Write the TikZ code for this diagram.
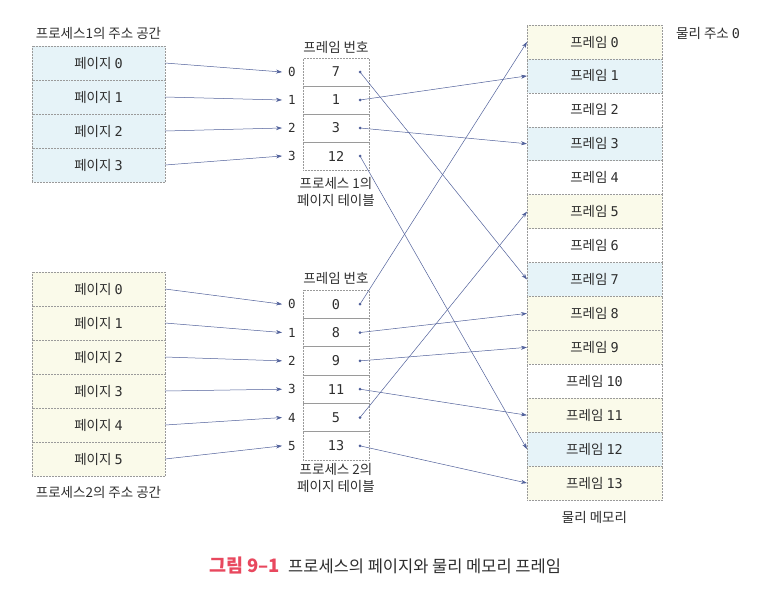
\documentclass[tikz,border=0pt]{standalone}
\usepackage{fontspec}
\setmainfont{Noto Sans CJK KR}
\newfontfamily\mono{DejaVu Sans Mono}
\usetikzlibrary{arrows.meta}
\definecolor{blueC}{HTML}{E6F3F8}
\definecolor{yelC}{HTML}{FAFAEA}
\definecolor{bord}{HTML}{9A9A9A}
\definecolor{arrC}{HTML}{50609A}
\definecolor{txt}{HTML}{2E2E2E}
\definecolor{capred}{HTML}{E8485E}
\tikzset{
  cell/.style={draw=bord, line width=0.5pt, densely dotted, inner sep=0pt, outer sep=0pt, text=txt, font=\fontsize{13.5}{15}\selectfont},
  pg/.style={cell, minimum width=133pt, minimum height=34pt},
  tb/.style={cell, minimum width=66pt, minimum height=28pt},
  tb2/.style={cell, minimum width=66pt, minimum height=28.33pt},
  fr/.style={cell, minimum width=135pt, minimum height=33.93pt},
  lbl/.style={text=txt, inner sep=0pt, font=\fontsize{13.5}{17}\selectfont},
  idx/.style={text=txt, inner sep=0pt, font=\fontsize{12.5}{14}\selectfont\mono},
  arr/.style={draw=arrC, line width=0.5pt, -{Stealth[length=6pt,width=4pt]}},
  dotc/.style={fill=arrC}
}
\begin{document}
\begin{tikzpicture}[x=1pt,y=-1pt]
\useasboundingbox (0,0) rectangle (763,600);
% process 1 pages
\node[lbl] (p1lab) at (98.5,33) {프로세스1의 주소 공간};
\foreach \i/\c in {0/blueC,1/blueC,2/blueC,3/blueC}
  \node[pg, fill=\c] (p1r\i) at (98.5,{63+34*\i}) {페이지 {\mono\i}};
% process 2 pages
\foreach \i in {0,...,5}
  \node[pg, fill=yelC] (p2r\i) at (98.5,{289+34*\i}) {페이지 {\mono\i}};
\node[lbl] (p2lab) at (98.5,492) {프로세스2의 주소 공간};
% page table 1
\node[lbl] (t1head) at (336,47) {프레임 번호};
\foreach \i/\v in {0/7,1/1,2/3,3/12} {
  \node[tb] (t1r\i) at (336,{72+28*\i}) {\mono\v};
  \node[idx] (t1i\i) at (292,{72+28*\i}) {\i};
  \coordinate (t1d\i) at ([xshift=-9pt]t1r\i.east);
}
\node[lbl, align=center, anchor=north] (t1cap) at (336,177) {프로세스 1의\\페이지 테이블};
% page table 2
\node[lbl] (t2head) at (336,278) {프레임 번호};
\foreach \i/\v in {0/0,1/8,2/9,3/11,4/5,5/13} {
  \node[tb2] (t2r\i) at (336,{304.2+28.33*\i}) {\mono\v};
  \node[idx] (t2i\i) at (292,{304.2+28.33*\i}) {\i};
  \coordinate (t2d\i) at ([xshift=-9pt]t2r\i.east);
}
\node[lbl, align=center, anchor=north] (t2cap) at (336,463) {프로세스 2의\\페이지 테이블};
% physical memory
\foreach \i/\c in {0/yelC,1/blueC,2/white,3/blueC,4/white,5/yelC,6/white,7/blueC,8/yelC,9/yelC,10/white,11/yelC,12/blueC,13/yelC}
  \node[fr, fill=\c] (f\i) at (594.5,{25+33.93*(\i+0.5)}) {프레임 {\mono\i}};
\node[lbl, anchor=west] (addr0) at (676,33) {물리 주소 {\mono 0}};
\node[lbl] (pmlab) at (594.5,517) {물리 메모리};
% arrows pages -> index
\foreach \i in {0,...,3}
  \draw[arr] (p1r\i.east) -- ([xshift=-6pt]t1i\i.west);
\foreach \i in {0,...,5}
  \draw[arr] (p2r\i.east) -- ([xshift=-6pt]t2i\i.west);
% arrows table -> frames
\draw[arr] (t1d0) -- (f7.west);
\draw[arr] (t1d1) -- (f1.west);
\draw[arr] (t1d2) -- (f3.west);
\draw[arr] (t1d3) -- (f12.west);
\draw[arr] (t2d0) -- (f0.west);
\draw[arr] (t2d1) -- (f8.west);
\draw[arr] (t2d2) -- (f9.west);
\draw[arr] (t2d3) -- (f11.west);
\draw[arr] (t2d4) -- (f5.west);
\draw[arr] (t2d5) -- (f13.west);
\foreach \i in {0,...,3} \fill[dotc] (t1d\i) circle (1.5pt);
\foreach \i in {0,...,5} \fill[dotc] (t2d\i) circle (1.5pt);
% caption
\node[anchor=west, inner sep=0pt, text=txt, font=\fontsize{16.5}{18}\selectfont] (cap) at (209,565)
  {{\fontsize{18.5}{20}\selectfont\bfseries\color{capred}그림 9–1}\hspace{8pt}프로세스의 페이지와 물리 메모리 프레임};
\end{tikzpicture}
\end{document}
